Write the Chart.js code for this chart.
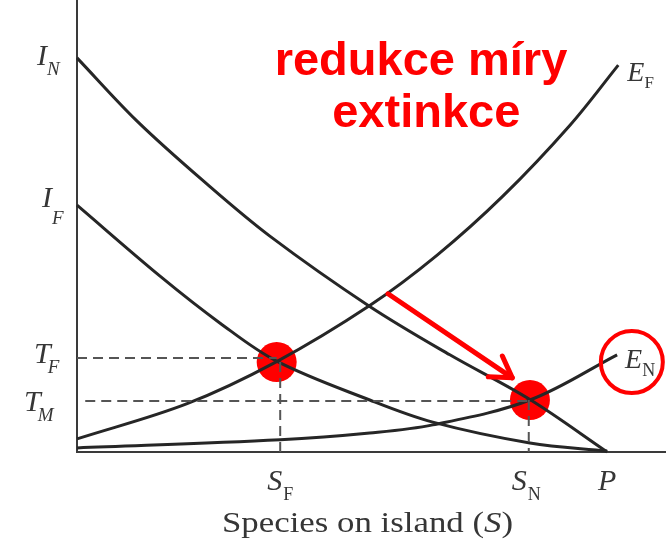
<!DOCTYPE html>
<html>
<head>
<meta charset="utf-8">
<script src="https://cdn.jsdelivr.net/npm/chart.js@4.4.1/dist/chart.umd.min.js"></script>
<style>
  html, body { margin: 0; padding: 0; background: #fff; }
  #wrap { width: 666px; height: 545px; }
</style>
</head>
<body>
<div id="wrap"><canvas id="c" width="666" height="545"></canvas></div>
<script>
// species on island (x, 0..100) vs rate (y, 0..100)
const immigNX = [0, 10.2, 21.6, 32.8, 49.7, 63.3, 76.9, 90.0];
const immigNY = [87.2, 73.2, 59.8, 47.7, 32.2, 21.5, 11.6, 0];
const immigFX = [0, 14.1, 24.3, 33.9, 49.7, 60.4, 76.9, 90.0];
const immigFY = [54.6, 38.9, 28.5, 20.1, 11.5, 6.6, 2.0, 0.2];
const extFX = [0, 18.7, 33.9, 49.7, 61.1, 72.3, 83.7, 91.9];
const extFY = [2.9, 10.7, 20.0, 32.4, 43.5, 56.6, 72.3, 85.6];
const extNX = [0, 34.5, 49.7, 60.4, 76.9, 91.7];
const extNY = [0.9, 2.7, 4.2, 6.0, 11.5, 21.5];

// equilibrium points (red dots)
const eqX = [33.9, 76.9];
const eqY = [19.9, 11.5];

// dashed guide levels
const tF = 20.8, tM = 11.3;
const sF = 34.5, sN = 76.7, pX = 90.0;

// arrow + circle + caption
const arrowFrom = [52.8, 35.0];
const arrowTo = [73.9, 16.4];
const circleAt = [94.2, 19.9];
const caption = ['redukce míry', 'extinkce'];
const xTitle = ['Species on island (', 'S', ')'];

const ink = '#262626';
const red = '#ff0000';

const toPts = (xs, ys) => xs.map((x, i) => ({ x, y: ys[i] }));

const curve = (data) => ({
  data, showLine: true, borderColor: ink, borderWidth: 3,
  pointRadius: 0, tension: 0.35, clip: false,
});
const dashed = (data) => ({
  data, showLine: true, borderColor: '#555', borderWidth: 2,
  borderDash: [10, 6], pointRadius: 0, tension: 0,
});

const serif = '"Liberation Serif", "DejaVu Serif", serif';

function label(ctx, main, sub, x, y, opts = {}) {
  const size = opts.size || 30, subSize = opts.subSize || 19;
  ctx.font = `italic ${size}px ${serif}`;
  ctx.fillText(main, x, y);
  const w = ctx.measureText(main).width;
  ctx.font = `${opts.subItalic ? 'italic ' : ''}${subSize}px ${serif}`;
  ctx.fillText(sub, x + w + (opts.subGap || 0), y + (opts.subDrop || 9));
}

const overlay = {
  id: 'overlay',
  beforeDatasetsDraw(chart) {
    const { ctx, chartArea: a } = chart;
    ctx.save();
    ctx.strokeStyle = '#3a3a3a';
    ctx.lineWidth = 2;
    ctx.beginPath();
    ctx.moveTo(a.left, 0);
    ctx.lineTo(a.left, a.bottom);
    ctx.lineTo(a.right, a.bottom);
    ctx.stroke();
    ctx.restore();
  },
  afterDatasetsDraw(chart) {
    const { ctx } = chart;
    const xs = chart.scales.x, ys = chart.scales.y;
    const px = v => xs.getPixelForValue(v), py = v => ys.getPixelForValue(v);
    ctx.save();
    ctx.fillStyle = '#363636';
    ctx.textBaseline = 'alphabetic';
    ctx.textAlign = 'left';

    // left axis labels
    label(ctx, 'I', 'N', px(0) - 40, py(immigNY[0]) + 7, { subItalic: true, subDrop: 10 });
    label(ctx, 'I', 'F', px(0) - 35, py(immigFY[0]) + 2, { subItalic: true, subDrop: 17 });
    label(ctx, 'T', 'F', px(0) - 43, py(tF) + 5, { subItalic: true, subDrop: 10, subGap: -3 });
    label(ctx, 'T', 'M', px(0) - 53, py(tM) + 10, { subItalic: true, subDrop: 10, subGap: -3 });

    // curve end labels
    label(ctx, 'E', 'F', px(extFX[7]) + 9, py(extFY[7]) + 16, { size: 28, subSize: 17, subDrop: 7 });
    label(ctx, 'E', 'N', px(extNX[5]) + 8, py(extNY[5]) + 13, { size: 28, subSize: 18, subDrop: 8 });

    // x axis labels
    label(ctx, 'S', 'F', px(sF) - 13, py(0) + 38, { size: 30, subSize: 18, subDrop: 10, subGap: 1 });
    label(ctx, 'S', 'N', px(sN) - 17, py(0) + 38, { size: 30, subSize: 18, subDrop: 10, subGap: 1 });
    ctx.font = `italic 30px ${serif}`;
    ctx.fillText('P', px(pX) - 9, py(0) + 38);

    // axis title, stretched to the width it has in the reference
    const fonts = [`29px ${serif}`, `italic 29px ${serif}`, `29px ${serif}`];
    let total = 0;
    xTitle.forEach((s, i) => { ctx.font = fonts[i]; total += ctx.measureText(s).width; });
    const sx = 291 / total;
    ctx.save();
    ctx.translate(222, 532);
    ctx.scale(sx, 1);
    let cx = 0;
    xTitle.forEach((s, i) => {
      ctx.font = fonts[i];
      ctx.fillText(s, cx, 0);
      cx += ctx.measureText(s).width;
    });
    ctx.restore();

    // red caption
    ctx.fillStyle = red;
    ctx.font = 'bold 47px "Liberation Sans", Arial, sans-serif';
    ctx.textAlign = 'center';
    ctx.fillText(caption[0], px(58.4), 75);
    ctx.fillText(caption[1], px(59.3), 127);

    // arrow
    const x0 = px(arrowFrom[0]), y0 = py(arrowFrom[1]);
    const x1 = px(arrowTo[0]), y1 = py(arrowTo[1]);
    const ang = Math.atan2(y1 - y0, x1 - x0);
    ctx.strokeStyle = red;
    ctx.lineWidth = 5;
    ctx.lineCap = 'round';
    ctx.lineJoin = 'round';
    ctx.beginPath();
    ctx.moveTo(x0, y0);
    ctx.lineTo(x1, y1);
    ctx.stroke();
    ctx.beginPath();
    ctx.moveTo(x1 + 24 * Math.cos(ang + Math.PI - 0.55), y1 + 24 * Math.sin(ang + Math.PI - 0.55));
    ctx.lineTo(x1, y1);
    ctx.lineTo(x1 + 24 * Math.cos(ang + Math.PI + 0.55), y1 + 24 * Math.sin(ang + Math.PI + 0.55));
    ctx.stroke();

    // circle around E_N
    ctx.lineWidth = 4;
    ctx.beginPath();
    ctx.arc(px(circleAt[0]), py(circleAt[1]), 31, 0, Math.PI * 2);
    ctx.stroke();
    ctx.restore();
  },
};

new Chart(document.getElementById('c'), {
  type: 'scatter',
  data: {
    datasets: [
      dashed([{ x: 0, y: tF }, { x: eqX[0], y: tF }]),
      dashed([{ x: sF, y: eqY[0] }, { x: sF, y: 0 }]),
      dashed([{ x: 1.4, y: tM }, { x: eqX[1], y: tM }]),
      dashed([{ x: sN, y: eqY[1] }, { x: sN, y: 0 }]),
      curve(toPts(immigNX, immigNY)),
      curve(toPts(immigFX, immigFY)),
      curve(toPts(extFX, extFY)),
      curve(toPts(extNX, extNY)),
      {
        data: toPts(eqX, eqY), showLine: false, pointRadius: 20,
        backgroundColor: red, borderColor: red, borderWidth: 0, clip: false,
      },
    ],
  },
  options: {
    responsive: false,
    animation: false,
    layout: { autoPadding: false, padding: { left: 77, right: 0, top: 0, bottom: 93 } },
    scales: {
      x: { type: 'linear', display: false, min: 0, max: 100 },
      y: { type: 'linear', display: false, min: 0, max: 100 },
    },
    plugins: { legend: { display: false }, tooltip: { enabled: false } },
  },
  plugins: [overlay],
});
</script>
</body>
</html>
